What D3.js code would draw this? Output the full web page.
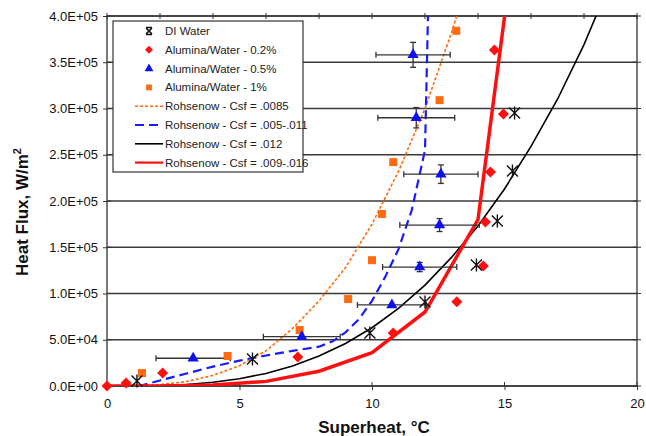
<!DOCTYPE html>
<html>
<head>
<meta charset="utf-8">
<script src="https://cdn.jsdelivr.net/npm/d3@7"></script>
<style>
  body { margin: 0; background: #fff; }
  svg { font-family: "Liberation Sans", Arial, sans-serif; }
</style>
</head>
<body>
<div id="chart"></div>
<script>
// ---- data (superheat degC, heat flux W/m2) ----
const diWater = [
    [1.13, 5400], [5.49, 29200], [9.92, 57300], [12.0, 90800],
    [13.94, 130800], [14.73, 178400], [15.3, 232400], [15.38, 295100]
];
const alumina02 = [
    [0, 0], [0.72, 3200], [2.1, 14000], [7.2, 31400], [10.8, 57300], [13.2, 91000],
    [14.2, 129700], [14.28, 177300], [14.47, 231400], [14.96, 294000], [14.62, 363200]
];
// x, q, x error, q error
const alumina05 = [
    [3.25, 30000, 1.4, 0], [7.35, 53300, 1.45, 0], [10.75, 87600, 1.3, 0],
    [11.8, 128600, 1.4, 5000], [12.55, 174000, 1.5, 7000], [12.6, 229000, 1.4, 10000],
    [11.67, 290000, 1.45, 11000], [11.55, 358000, 1.4, 13500]
];
const alumina1 = [
    [1.32, 14000], [4.55, 32400], [7.27, 60500], [9.1, 94000], [10.0, 136000],
    [10.38, 186000], [10.8, 242000], [12.55, 309000], [13.18, 384000]
];
const rohsenow0085 = [
    [1.1, 0], [2, 1500], [3, 4800], [4, 11500], [5, 22000], [6, 38000], [7, 62000],
    [8, 92000], [9, 128000], [10, 175000], [11, 232000], [12, 300000], [13, 382000], [13.3, 410000]
];
const rohsenow005011 = [
    [1.2, 0], [2, 6000], [3, 13500], [4, 21000], [5, 27500], [6, 33000], [7, 38000],
    [8, 42500], [8.5, 48000], [9, 58000], [9.5, 72000], [10, 92000], [10.5, 118000],
    [11, 148000], [11.5, 190000], [12, 255000], [12.12, 410000]
];
const rohsenow012 = [
    [0, 0], [1, 60], [2, 500], [3, 1700], [4, 4000], [5, 7900], [6, 13600], [7, 21700],
    [8, 32400], [9, 46000], [10, 63000], [11, 84000], [12, 109000], [13, 139000],
    [14, 173000], [15, 213000], [16, 259000], [17, 310000], [18, 369000], [18.6, 410000]
];
const rohsenow009016 = [
    [0, 0], [2, 0], [4, 1000], [6, 5000], [8, 16000], [10, 36000], [12, 80000],
    [14, 180000], [15.05, 410000]
];
const xTicks = [0, 5, 10, 15, 20];
const yTicks = [0, 50000, 100000, 150000, 200000, 250000, 300000, 350000, 400000];
const legendLabels = [
    "DI Water", "Alumina/Water - 0.2%", "Alumina/Water - 0.5%", "Alumina/Water - 1%",
    "Rohsenow - Csf = .0085", "Rohsenow - Csf = .005-.011",
    "Rohsenow - Csf = .012", "Rohsenow - Csf = .009-.016"
];

const W = 646, H = 436;
const margin = { top: 16, right: 9, bottom: 50, left: 107 };
const width = W - margin.left - margin.right;
const height = H - margin.top - margin.bottom;

const svg = d3.select("#chart").append("svg")
    .attr("width", W).attr("height", H);
const g = svg.append("g")
    .attr("transform", `translate(${margin.left},${margin.top})`);

const x = d3.scaleLinear().domain([0, 20]).range([0, width]);
const y = d3.scaleLinear().domain([0, 400000]).range([height, 0]);

g.append("clipPath").attr("id", "clip")
    .append("rect").attr("width", width).attr("height", height);

// horizontal gridlines
g.append("g").selectAll("line").data(yTicks).join("line")
    .attr("x1", 0).attr("x2", width)
    .attr("y1", d => y(d)).attr("y2", d => y(d))
    .attr("stroke", "#3a3a3a").attr("stroke-width", 1.4);

// frame
g.append("rect").attr("width", width).attr("height", height)
    .attr("fill", "none").attr("stroke", "#333").attr("stroke-width", 1.3);

// axes
const fmtE = d => {
    if (d === 0) return "0.0E+00";
    const [m, e] = d.toExponential(1).split("e");
    const n = +e;
    return m + "E" + (n < 0 ? "-" : "+") + String(Math.abs(n)).padStart(2, "0");
};
const yAxis = g.append("g")
    .call(d3.axisLeft(y).tickValues(yTicks).tickFormat(fmtE).tickSize(4).tickPadding(5));
const xAxis = g.append("g").attr("transform", `translate(0,${height})`)
    .call(d3.axisBottom(x).tickValues(xTicks).tickSize(4).tickPadding(9));
[yAxis, xAxis].forEach(a => {
    a.select(".domain").remove();
    a.selectAll("text").attr("font-size", 13).attr("fill", "#111")
        .attr("font-family", "Liberation Sans, Arial, sans-serif");
    a.selectAll(".tick line").attr("stroke", "#333");
});
// crossing ticks
g.append("g").selectAll("line").data(yTicks).join("line")
    .attr("x1", 0).attr("x2", 4).attr("y1", d => y(d)).attr("y2", d => y(d))
    .attr("stroke", "#333");
g.append("g").selectAll("line").data(yTicks).join("line")
    .attr("x1", width - 4).attr("x2", width + 4).attr("y1", d => y(d)).attr("y2", d => y(d))
    .attr("stroke", "#333");
g.append("g").selectAll("line").data(xTicks).join("line")
    .attr("x1", d => x(d)).attr("x2", d => x(d)).attr("y1", height - 4).attr("y2", height)
    .attr("stroke", "#333");
g.append("g").selectAll("line").data(d3.range(0, 21, 2)).join("line")
    .attr("x1", d => x(d)).attr("x2", d => x(d)).attr("y1", -3).attr("y2", 3)
    .attr("stroke", "#333");

// axis titles
svg.append("text")
    .attr("transform", "translate(28,212) rotate(-90)")
    .attr("text-anchor", "middle").attr("font-size", 17).attr("font-weight", "bold")
    .attr("fill", "#111")
    .html('Heat Flux, W/m<tspan dy="-7" font-size="11">2</tspan>');
svg.append("text")
    .attr("x", 374).attr("y", 433)
    .attr("text-anchor", "middle").attr("font-size", 17).attr("font-weight", "bold")
    .attr("fill", "#111")
    .text("Superheat, \u00b0C");

// Rohsenow curves
const line = d3.line().x(d => x(d[0])).y(d => y(d[1]));
const curves = [
    { data: rohsenow0085, color: "#ff6a10", width: 1.6, dash: "3,2" },
    { data: rohsenow005011, color: "#1a1aff", width: 2.2, dash: "9,5" },
    { data: rohsenow012, color: "#000", width: 1.6, dash: null },
    { data: rohsenow009016, color: "#ff1010", width: 3.5, dash: null }
];
const curveG = g.append("g").attr("clip-path", "url(#clip)");
curves.forEach(c => {
    curveG.append("path").datum(c.data)
        .attr("d", line).attr("fill", "none")
        .attr("stroke", c.color).attr("stroke-width", c.width)
        .attr("stroke-dasharray", c.dash);
});

// error bars for 0.5%
const eb = g.append("g").attr("stroke", "#333").attr("stroke-width", 1.3);
alumina05.forEach(([vx, vq, ex, eq]) => {
    const cy = y(vq);
    eb.append("line").attr("x1", x(vx - ex)).attr("x2", x(vx + ex)).attr("y1", cy).attr("y2", cy);
    [vx - ex, vx + ex].forEach(v =>
        eb.append("line").attr("x1", x(v)).attr("x2", x(v)).attr("y1", cy - 3).attr("y2", cy + 3));
    if (eq > 0) {
        eb.append("line").attr("x1", x(vx)).attr("x2", x(vx)).attr("y1", y(vq - eq)).attr("y2", y(vq + eq));
        [vq - eq, vq + eq].forEach(v =>
            eb.append("line").attr("x1", x(vx) - 3).attr("x2", x(vx) + 3).attr("y1", y(v)).attr("y2", y(v)));
    }
});

// markers
const starPath = "M-5.5,-5.5L5.5,5.5M-5.5,5.5L5.5,-5.5M0,-6.5L0,6.5";
const diamondPath = s => `M0,${-s}L${s},0L0,${s}L${-s},0Z`;
function drawMarkers(data, kind, color, size) {
    const sel = g.append("g").selectAll("path").data(data).join("path")
        .attr("transform", d => `translate(${x(d[0])},${y(d[1])})`);
    if (kind === "star") {
        sel.attr("d", starPath).attr("fill", "none").attr("stroke", "#111").attr("stroke-width", 1.4);
    } else if (kind === "diamond") {
        sel.attr("d", diamondPath(size)).attr("fill", color);
    } else {
        sel.attr("d", d3.symbol().type(kind).size(size)).attr("fill", color);
    }
}
drawMarkers(alumina1, d3.symbolSquare, "#ff6a10", 64);
drawMarkers(alumina05, d3.symbolTriangle, "#1010ee", 55);
drawMarkers(alumina02, "diamond", "#ff1010", 5.5);
drawMarkers(diWater, "star", "#111", 0);

// legend
const lg = svg.append("g").attr("transform", "translate(113,21)");
lg.append("rect").attr("width", 190).attr("height", 151)
    .attr("fill", "#fff").attr("stroke", "#333").attr("stroke-width", 1.2);
const legendKeys = [
    { kind: "x" }, { kind: "diamond", color: "#ff1010" },
    { kind: d3.symbolTriangle, color: "#1010ee" }, { kind: d3.symbolSquare, color: "#ff6a10" },
    { curve: curves[0] }, { curve: curves[1] }, { curve: curves[2] }, { curve: curves[3] }
];
legendLabels.forEach((label, i) => {
    const cy = 10 + i * 18.8;
    const k = legendKeys[i];
    if (k.curve) {
        lg.append("line").attr("x1", 22).attr("x2", 50).attr("y1", cy).attr("y2", cy)
            .attr("stroke", k.curve.color)
            .attr("stroke-width", Math.min(k.curve.width, 2.2))
            .attr("stroke-dasharray", k.curve.dash);
    } else if (k.kind === "x") {
        lg.append("path").attr("transform", `translate(36,${cy})`)
            .attr("d", "M-3,-3L3,3M-3,3L3,-3M-3,-3.5L3,-3.5M-3,3.5L3,3.5")
            .attr("stroke", "#111").attr("stroke-width", 1.6);
    } else if (k.kind === "diamond") {
        lg.append("path").attr("transform", `translate(36,${cy})`)
            .attr("d", diamondPath(4)).attr("fill", k.color);
    } else {
        lg.append("path").attr("transform", `translate(36,${cy})`)
            .attr("d", d3.symbol().type(k.kind).size(34)).attr("fill", k.color);
    }
    lg.append("text").attr("x", 52).attr("y", cy + 4)
        .attr("font-size", 11.5).attr("fill", "#222").text(label);
});
</script>
</body>
</html>
